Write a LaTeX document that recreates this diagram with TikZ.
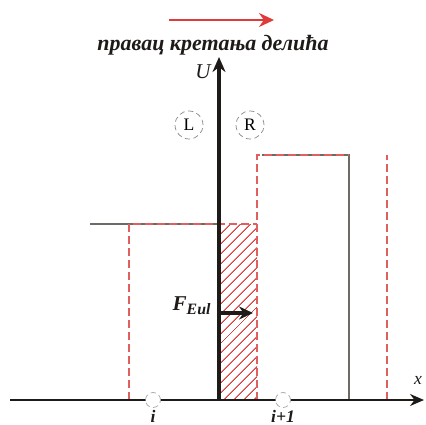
\documentclass[tikz,border=0pt]{standalone}
\usepackage{fontspec}
\setmainfont{Liberation Serif}
\usepackage{xcolor}
\usepackage{tikz}
\usetikzlibrary{positioning,arrows.meta,patterns.meta}
\definecolor{crojo}{HTML}{E03A3A}
\definecolor{crosa}{HTML}{E06060}
\definecolor{cgris}{HTML}{6E6A66}
\definecolor{cnegro}{HTML}{1E1A18}
\tikzset{
  eje/.style={-{Stealth[length=2.8mm,width=2.4mm]}, line width=1pt, draw=cnegro},
  ejeu/.style={-{Stealth[length=3mm,width=2.6mm]}, line width=1.8pt, draw=cnegro},
  rayas/.style={draw=crosa, line width=0.8pt, dash pattern=on 1.6mm off 0.8mm},
  linea/.style={draw=cgris, line width=1pt},
  celda/.style={circle, draw=cgris!60, densely dashed, fill=white, minimum size=3mm, inner sep=0pt},
  estado/.style={circle, draw=cgris!80, densely dashed, fill=white, minimum size=5.6mm, inner sep=0pt, font=\normalsize},
  flecha/.style={-{Stealth[length=2.8mm,width=2.6mm]}, line width=2pt, draw=cnegro},
  etq/.style={font=\bfseries\itshape, text=cnegro, inner sep=0.5pt},
}
\begin{document}
\begin{tikzpicture}[x=0.02cm,y=-0.02cm]
  \useasboundingbox (0,0) rectangle (425,425);
  % direccion de movimiento
  \coordinate (d1) at (169,20);
  \coordinate (d2) at (274,20);
  \draw[-{Stealth[length=3mm,width=2.8mm]}, line width=1.2pt, draw=crojo] (d1) -- (d2);
  \node[font=\fontsize{12.5}{14}\selectfont\bfseries\itshape, text=cnegro] (titulo) at (213,45) {правац кретања делића};
  % zona rayada
  \path[pattern={Lines[angle=45,distance=4pt,line width=0.6pt]}, pattern color=crojo] (219,224) rectangle (257,400);
  % estado izquierdo
  \coordinate (li1) at (90,224);
  \coordinate (li2) at (219,224);
  \draw[linea] (li1) -- (li2);
  \coordinate (ri1) at (262,155);
  \coordinate (ri2) at (349,155);
  \coordinate (ri3) at (349,400);
  \draw[linea] (ri1) -- (ri2) -- (ri3);
  \coordinate (a1) at (129,400);
  \coordinate (a2) at (129,224);
  \coordinate (a3) at (257,224);
  \draw[rayas] (a1) -- (a2) -- (a3);
  \coordinate (b1) at (257,400);
  \coordinate (b2) at (257,155);
  \coordinate (b3) at (349,155);
  \draw[rayas] (b1) -- (b2) -- (b3);
  \coordinate (c1) at (387,400);
  \coordinate (c2) at (387,155);
  \draw[rayas] (c1) -- (c2);
  % ejes
  \coordinate (o) at (10,400);
  \coordinate (xfin) at (424,400);
  \draw[eje] (o) -- (xfin);
  \coordinate (ubase) at (219,400);
  \coordinate (ufin) at (219,57);
  \draw[ejeu] (ubase) -- (ufin);
  \node[font=\large\itshape, text=cnegro] (u) at (203,72) {U};
  \node[font=\itshape, text=cnegro] (x) at (418,380) {x};
  % estados L y R
  \node[estado] (l) at (189,125) {L};
  \node[estado] (r) at (250,125) {R};
  % celdas
  \node[celda] (ci) at (153,400) {};
  \node[celda] (cd) at (283,400) {};
  \node[etq] (ti) at (153,416) {i};
  \node[etq] (td) at (283,416) {i+1};
  % flujo
  \coordinate (fa) at (219,313);
  \coordinate (fb) at (253,313);
  \draw[flecha] (fa) -- (fb);
  \node[font=\large\bfseries\itshape, text=cnegro] (f) at (192,306) {F\textsubscript{\small Eul}};
\end{tikzpicture}
\end{document}
